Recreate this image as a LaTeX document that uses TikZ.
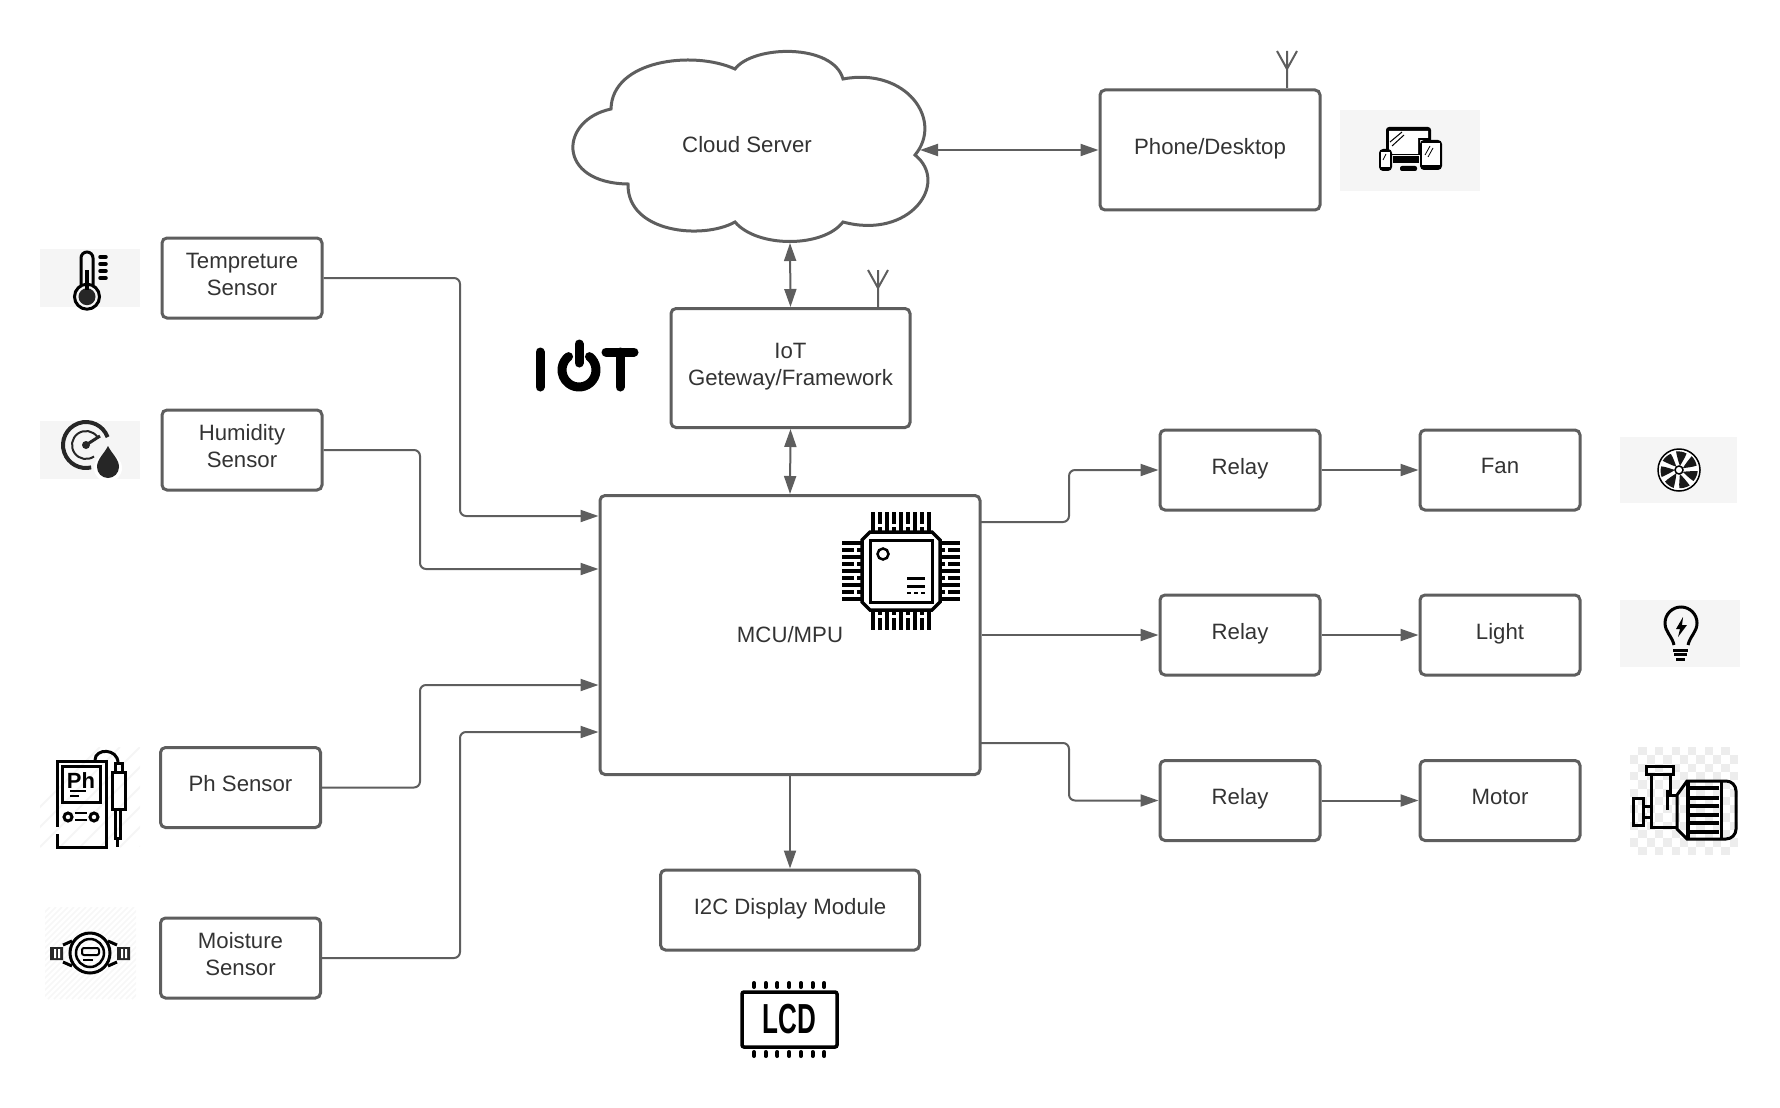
\documentclass[tikz,border=0pt]{standalone}
\usepackage{fontspec}
\setmainfont{Liberation Sans}
\usetikzlibrary{arrows.meta}
\definecolor{linegray}{HTML}{5E5E5E}
\definecolor{textgray}{HTML}{333333}
\tikzset{
  box/.style={draw=linegray,line width=1.5pt,rounded corners=2.5pt,inner sep=0pt,
    align=center,text=textgray,text depth=3.7pt,font=\fontsize{11.1}{13.5}\selectfont,
    minimum width=80pt,minimum height=40pt},
  wire/.style={draw=linegray,line width=1pt},
  flow/.style={wire,rounded corners=3pt,-{Triangle[length=9pt,width=6pt]}},
  twoway/.style={wire,{Triangle[length=9pt,width=6pt]}-{Triangle[length=9pt,width=6pt]}},
  iconbg/.style={fill=black!4},
  ic/.style={draw=black,line width=1.5pt},
  icon/.style={draw=black!85,fill=black!85,line width=.5pt},
  antenna/.pic={\draw[wire] (0,0) -- (0,-37) (-10,-37) -- (0,-19) -- (10,-37);}
}
\begin{document}
\begin{tikzpicture}[x=0.5pt,y=-0.5pt]
\useasboundingbox (0,0) rectangle (1780,1107);

% icon backgrounds
\fill[iconbg] (40,249) rectangle (140,307);
\fill[iconbg] (40,421) rectangle (140,479);
\fill[iconbg] (1340,110) rectangle (1480,191);
\fill[iconbg] (1620,437) rectangle (1737,503);
\fill[iconbg] (1620,600) rectangle (1740,667);
\begin{scope}
  \clip (40,747) rectangle (140,847);
  \foreach \k in {0,20,...,220} \draw[black!4,line width=1pt] (\k,847) -- ++(100,-100);
\end{scope}
\begin{scope}
  \clip (45,907) rectangle (136,999);
  \foreach \k in {-60,-54,...,140} \draw[black!3,line width=.75pt] (\k,999) -- ++(92,-92);
\end{scope}
\foreach \i in {0,...,12} \foreach \j in {0,...,12} {
  \ifodd\numexpr\i+\j\relax
    \fill[black!7] ({1630+8.3*\i},{747+8.3*\j}) rectangle ++(8.3,8.3);
  \fi
}

% cloud
\draw[draw=linegray,line width=1.5pt,fill=white]
  (735,69) .. controls (753,45) and (833,43) .. (843,79)
  .. controls (906,67) and (944,120) .. (915,155)
  .. controls (950,183) and (910,240) .. (843,222)
  .. controls (823,248) and (757,248) .. (735,222)
  .. controls (703,240) and (627,233) .. (628,184)
  .. controls (556,183) and (559,120) .. (611,109)
  .. controls (612,60) and (693,50) .. (735,69) -- cycle;
\node[text=textgray,font=\fontsize{11.1}{13.5}\selectfont] (cloud) at (747,145) {Cloud Server};
\coordinate (cloudE) at (920,150);
\coordinate (cloudS) at (790,243);

% boxes
\node[box] (temp) at (242,278) {Tempreture\\Sensor};
\node[box] (humid) at (242,450) {Humidity\\Sensor};
\node[box] (ph) at (240.5,787.5) {Ph Sensor};
\node[box] (moist) at (240.5,958) {Moisture\\Sensor};
\node[box,minimum width=119.5pt,minimum height=59.5pt] (gateway) at (790.5,368) {IoT\\Geteway/Framework};
\node[box,minimum width=110pt,minimum height=60pt] (phone) at (1210,150) {Phone/Desktop};
\node[box,minimum width=190pt,minimum height=139.5pt,text depth=.7pt] (mcu) at (790,635) {MCU/MPU};
\node[box,minimum width=129.5pt] (i2c) at (790,910) {I2C Display Module};
\node[box] (relayA) at (1240,470) {Relay};
\node[box] (relayB) at (1240,635) {Relay};
\node[box] (relayC) at (1240,800.5) {Relay};
\node[box] (fan) at (1500,470) {Fan};
\node[box] (light) at (1500,635) {Light};
\node[box] (motor) at (1500,800.5) {Motor};

% antennas
\path (878,307) pic {antenna};
\path (1287,88) pic {antenna};

% inputs
\coordinate (bendA) at (460,516);
\coordinate (bendB) at (420,569);
\coordinate (bendC) at (420,685);
\coordinate (bendD) at (460,732);
\draw[flow] (temp.east) -| (bendA) -- (bendA -| mcu.west);
\draw[flow] (humid.east) -| (bendB) -- (bendB -| mcu.west);
\draw[flow] (ph.east) -| (bendC) -- (bendC -| mcu.west);
\draw[flow] (moist.east) -| (bendD) -- (bendD -| mcu.west);

% outputs
\coordinate (outA) at (980,522);
\coordinate (outC) at (980,743);
\draw[flow] (outA) -| (1069,470) -- (relayA.west);
\draw[flow] (mcu.east) -- (relayB.west);
\draw[flow] (outC) -| (1069,800.5) -- (relayC.west);
\draw[flow] (relayA) -- (fan);
\draw[flow] (relayB) -- (light);
\draw[flow] (relayC) -- (motor);
\draw[flow] (mcu) -- (i2c);
\draw[twoway] (gateway.south) -- (mcu.north);
\draw[twoway] (cloudS) -- (gateway.north);
\draw[twoway] (cloudE) -- (cloudE -| phone.west);

% thermometer
\draw[ic] (81,285) -- (81,258) arc (180:360:6) -- (93,285);
\draw[ic] (87,296.7) circle (12.5);
\fill[black!85] (87,296.7) circle (8.5);
\draw[ic,line width=2pt] (87,270) -- (87,290);
\foreach \y in {257,264,271,278} \draw[ic,line width=1.75pt,line cap=round] (100,\y) -- (106,\y);

% gauge with drop
\draw[icon,fill=none,line width=2pt] (86,445) ++(-20:23) arc (-20:-283:23);
\draw[icon,fill=none,line width=1pt] (86,445) ++(-35:14) arc (-35:-305:14);
\fill[black!85] (86,445) circle (4);
\draw[icon,line width=1.5pt] (86,445) -- (100,436);
\fill[white] (108,468) circle (14);
\fill[black!85] (108,446) .. controls (112,454) and (119,459) .. (119,467)
  arc (0:180:11) .. controls (97,459) and (104,454) .. (108,446) -- cycle;

% ph meter
\draw[ic] (57,827) -- (57,761) -- (106,761) -- (106,847) -- (57,847) -- (57,834);
\draw[ic] (62,766) rectangle (100,802);
\node[inner sep=0pt,font=\fontsize{11}{11}\selectfont\bfseries] (phIcon) at (81,781) {Ph};
\draw[ic,line width=.75pt] (70,791) -- (86,791) (70,796) -- (79,796);
\draw[ic] (68,817) circle (4) (94,817) circle (4);
\draw[ic,line width=1pt] (75,813) -- (87,813) (75,820) -- (87,820);
\draw[ic] (95,760) .. controls (95,748) and (118,748) .. (118,763);
\draw[ic] (115,772) -- (115,763) -- (122,763) -- (122,772);
\draw[ic] (112,772) rectangle (125,809);
\draw[ic] (115,809) -- (115,838) -- (120,838) -- (120,809) (117.5,838) -- (117.5,847);

% water meter
\draw[ic] (90,953) circle (20);
\draw[ic,line width=1.25pt] (90,953) circle (14);
\draw[ic,rounded corners=1pt,line width=1pt] (82,948) rectangle (99,955);
\draw[ic,line width=.75pt] (83,960) -- (93,960);
\fill[black!85] (50,947) rectangle (63,960) (117,947) rectangle (130,960);
\fill[white] (54,949) rectangle (56,958) (58,949) rectangle (60,958)
  (121,949) rectangle (123,958) (125,949) rectangle (127,958);
\draw[ic] (63,945) -- (72,941) (63,962) -- (72,966) (117,945) -- (108,941) (117,962) -- (108,966);

% devices
\fill[black] (1386,155) -- (1386,130) arc (180:270:3) -- (1428,127) arc (270:360:3) -- (1431,140) -- (1420,140) -- (1420,155) -- cycle;
\fill[white] (1389,131) rectangle (1418,154) (1418,131) rectangle (1428,138);
\draw[black,line width=.5pt] (1390,142) -- (1402,132) (1392,146) -- (1404,135);
\fill[black] (1393,156) rectangle (1419,163);
\fill[black,rounded corners=1pt] (1400,166) rectangle (1417,171);
\fill[black,rounded corners=2pt] (1379,149) rectangle (1392,171);
\fill[white] (1381,152) rectangle (1390,167);
\fill[black,rounded corners=2pt] (1420,140) rectangle (1442,170);
\fill[white] (1422,143) rectangle (1440,165);
\draw[black,line width=.4pt] (1425,155) -- (1430,146) (1428,157) -- (1433,148) (1383,160) -- (1386,154);

% fan
\begin{scope}[shift={(1679,470)}]
  \draw[ic,line width=.75pt,fill=white] (0,0) circle (21);
  \foreach \r in {0,51.4,102.8,154.2,205.6,257,308.4}
    \fill[black!90,rotate=\r] (1,-4) .. controls (-1,-9) and (-2,-14) .. (-3,-18.5)
      .. controls (1,-19) and (5,-18) .. (7.5,-16.5) .. controls (6,-12) and (3,-8) .. (1,-4) -- cycle;
  \draw[ic,line width=.75pt,fill=white] (0,0) circle (4);
\end{scope}

% bulb
\draw[ic] (1674,645) .. controls (1672,636) and (1665,632) .. (1665,623)
  arc (180:360:16) .. controls (1697,632) and (1690,636) .. (1688,645);
\fill[black] (1683,617) -- (1676,629) -- (1680,629) -- (1678,637) -- (1687,625) -- (1682,625) -- cycle;
\draw[ic] (1673,650) -- (1688,650) (1674,654.5) -- (1687,654.5) (1676,659) -- (1685,659);

% pump
\draw[ic] (1687,781) -- (1726,781) arc (270:360:10) -- (1736,829) arc (0:90:10) -- (1687,839)
  -- (1677,829) -- (1677,795) -- cycle;
\draw[ic,line width=2pt] (1688,781) -- (1688,839);
\draw[ic] (1721,781) -- (1721,839);
\foreach \y in {788,798,806,815,823,832} \draw[ic,line width=2pt] (1690,\y) -- (1719,\y);
\draw[ic] (1646,766) rectangle (1673,774);
\draw[ic] (1651,774) -- (1651,827) -- (1676,827);
\draw[ic] (1670,774) -- (1670,795) -- (1677,795);
\draw[ic] (1667,790) -- (1667,810);
\draw[ic] (1633,798) rectangle (1643,825);
\draw[ic] (1643,806) -- (1651,806) (1643,817) -- (1651,817);

% iot logo
\draw[black,line width=4.5pt,line cap=round] (540,352) -- (540,387);
\draw[black,line width=4.5pt,line cap=round] (579,370) ++(-52:17) arc (-52:232:17);
\draw[black,line width=4.5pt,line cap=round] (579,344) -- (579,363);
\draw[black,line width=4.5pt,line cap=round] (606,352) -- (634,352) (620,352) -- (620,387);

% chip
\begin{scope}[shift={(901,571)}]
  \foreach \r in {0,90,180,270} {
    \begin{scope}[rotate=\r]
      \foreach \k in {-28,-14,...,28} \draw[black,line width=1.6pt] (\k,-40) -- (\k,-59);
      \foreach \k in {-21,-7,...,21} \draw[black,line width=1.6pt,dash pattern=on 6pt off 1.5pt] (\k,-59) -- (\k,-40);
    \end{scope}
  }
  \draw[black,line width=1.75pt,fill=white] (-31,-39) -- (31,-39) -- (39,-31) -- (39,31) -- (31,39)
    -- (-31,39) -- (-39,31) -- (-39,-31) -- cycle;
  \draw[black,line width=1.5pt] (-31,-31) rectangle (31,31);
  \draw[black,line width=1.25pt] (-18,-17) circle (5.5);
  \draw[black,line width=1.5pt] (6,7) -- (24,7) (6,15) -- (24,15);
  \draw[black,line width=1.25pt,dash pattern=on 2pt off 1.5pt] (6,22) -- (24,22);
\end{scope}

% lcd
\draw[black,line width=1.75pt,rounded corners=1pt] (742,992) rectangle (837,1047);
\foreach \k in {0,...,6} {
  \draw[black,line width=2pt,line cap=round] ({754+11.7*\k},983) -- ++(0,4);
  \draw[black,line width=2pt,line cap=round] ({754+11.7*\k},1052) -- ++(0,4);
}
\node[inner sep=0pt,transform shape,xscale=.62,font=\fontsize{21}{21}\selectfont\bfseries] (lcdIcon) at (789.5,1019.5) {LCD};
\end{tikzpicture}
\end{document}
